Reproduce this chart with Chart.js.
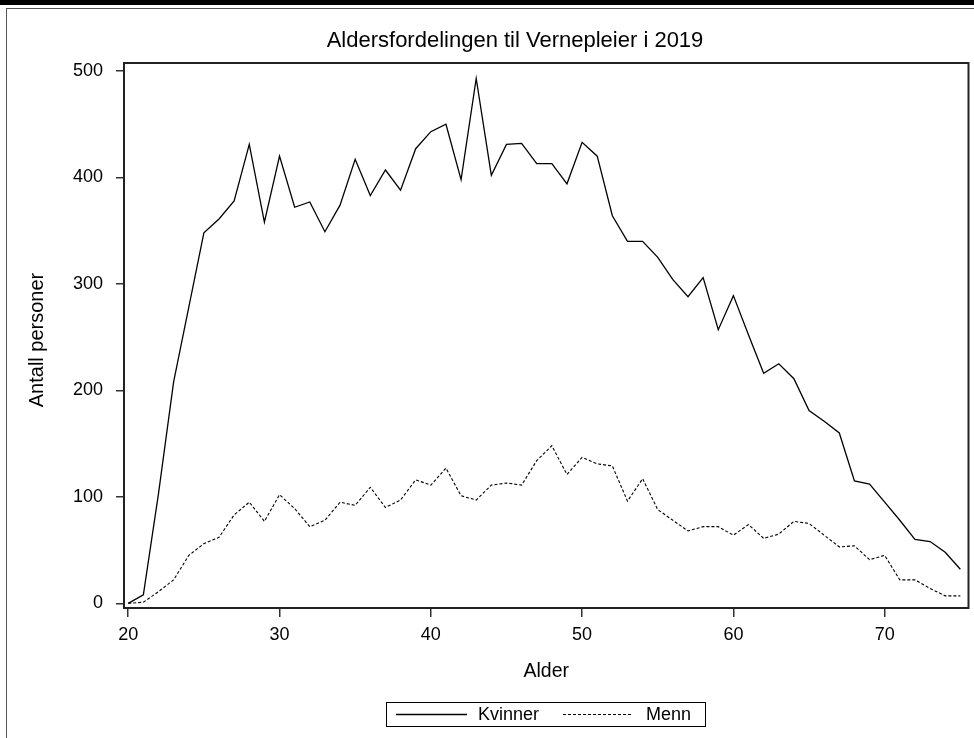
<!DOCTYPE html>
<html>
<head>
<meta charset="utf-8">
<script src="https://cdn.jsdelivr.net/npm/chart.js@4/dist/chart.umd.min.js"></script>
<style>
  html, body { margin: 0; padding: 0; background: #fff; }
  #wrap { position: relative; width: 974px; height: 738px; overflow: hidden; }
  #topbar { position: absolute; left: 0; top: 0; width: 974px; height: 5px; background: #000; }
  #frameTop { position: absolute; left: 6px; top: 8px; width: 968px; height: 1px; background: #555; }
  #frameLeft { position: absolute; left: 6px; top: 8px; width: 1px; height: 730px; background: #555; }
  canvas { position: absolute; left: 0; top: 0; }
</style>
</head>
<body>
<div id="wrap">
  <div id="topbar"></div>
  <div id="frameTop"></div>
  <div id="frameLeft"></div>
  <canvas id="c" width="974" height="738"></canvas>
</div>
<script>
// Alder (år)
const ages = [20,21,22,23,24,25,26,27,28,29,30,31,32,33,34,35,36,37,38,39,40,41,42,43,44,45,46,47,
              48,49,50,51,52,53,54,55,56,57,58,59,60,61,62,63,64,65,66,67,68,69,70,71,72,73,74,75];
// Antall kvinner per alder
const kvinner = [0,8,103,208,278,348,361,378,431,358,420,372,377,349,374,417,383,407,388,427,443,450,398,493,
                 402,431,432,413,413,394,433,420,364,340,340,325,304,288,306,257,289,252,216,225,211,181,171,160,
                 115,112,95,78,60,58,48,32];
// Antall menn per alder
const menn = [0,1,11,22,45,56,62,83,95,77,102,89,72,78,95,92,109,90,97,116,111,127,101,97,
              111,113,111,134,148,121,137,131,129,96,117,88,78,68,72,72,64,74,61,65,77,75,64,53,
              54,41,45,22,22,14,7,7];
const xTicks = [20,30,40,50,60,70];
const yTicks = [0,100,200,300,400,500];

const FONT = "'Liberation Sans', Arial, sans-serif";

function toPoints(vals) { return ages.map((a, i) => ({ x: a, y: vals[i] })); }

// Plot frame, title, axis titles and boxed legend
const decorations = {
  id: 'decorations',
  afterDraw(chart) {
    const ctx = chart.ctx;
    const a = chart.chartArea;
    ctx.save();
    ctx.strokeStyle = '#222';
    ctx.lineWidth = 2;
    ctx.strokeRect(a.left, a.top, a.right - a.left, a.bottom - a.top);

    ctx.fillStyle = '#000';
    ctx.textBaseline = 'middle';
    ctx.textAlign = 'center';
    ctx.font = '22px ' + FONT;
    ctx.fillText('Aldersfordelingen til Vernepleier i 2019', 515, 41);

    ctx.font = '19.5px ' + FONT;
    ctx.fillText('Alder', (a.left + a.right) / 2, 672);

    ctx.save();
    ctx.translate(37, 340);
    ctx.rotate(-Math.PI / 2);
    ctx.font = '20px ' + FONT;
    ctx.fillText('Antall personer', 0, 0);
    ctx.restore();

    // legend
    const lx = 386, ly = 702, lw = 319, lh = 24;
    ctx.lineWidth = 1;
    ctx.strokeStyle = '#000';
    ctx.strokeRect(lx + 0.5, ly + 0.5, lw, lh);
    const items = [
      { ds: chart.data.datasets[0], x0: 396, x1: 467, tx: 478 },
      { ds: chart.data.datasets[1], x0: 563, x1: 632, tx: 646 }
    ];
    ctx.font = '18px ' + FONT;
    ctx.textAlign = 'left';
    items.forEach(it => {
      ctx.beginPath();
      ctx.setLineDash(it.ds.borderDash || []);
      ctx.lineWidth = it.ds.borderWidth;
      ctx.strokeStyle = it.ds.borderColor;
      ctx.moveTo(it.x0, 714.5);
      ctx.lineTo(it.x1, 714.5);
      ctx.stroke();
      ctx.setLineDash([]);
      ctx.fillText(it.ds.label, it.tx, 715);
    });
    ctx.restore();
  }
};

new Chart(document.getElementById('c'), {
  type: 'line',
  data: {
    datasets: [
      { label: 'Kvinner', data: toPoints(kvinner), borderColor: '#000', borderWidth: 1.3,
        pointRadius: 0, tension: 0, fill: false },
      { label: 'Menn', data: toPoints(menn), borderColor: '#000', borderWidth: 1.1,
        borderDash: [3, 2], pointRadius: 0, tension: 0, fill: false }
    ]
  },
  options: {
    responsive: false,
    devicePixelRatio: 1,
    animation: false,
    layout: { padding: { left: 0, top: 63, right: 5.5, bottom: 0 } },
    plugins: { legend: { display: false }, title: { display: false }, tooltip: { enabled: false } },
    scales: {
      x: {
        type: 'linear',
        min: 19.72,
        max: 75.54,
        afterFit(s) { s.height = 130; },
        afterBuildTicks(s) { s.ticks = xTicks.map(v => ({ value: v })); },
        border: { display: false },
        grid: { drawOnChartArea: false, drawTicks: true, tickLength: 9, color: '#333', lineWidth: 1.5 },
        ticks: { color: '#000', font: { family: FONT, size: 18 }, padding: 7, maxRotation: 0 }
      },
      y: {
        type: 'linear',
        min: -4.4,
        max: 507.5,
        afterFit(s) { s.width = 124; },
        afterBuildTicks(s) { s.ticks = yTicks.map(v => ({ value: v })); },
        border: { display: false },
        grid: { drawOnChartArea: false, drawTicks: true, tickLength: 8, color: '#333', lineWidth: 1.5 },
        ticks: { color: '#000', font: { family: FONT, size: 18 }, padding: 13 }
      }
    }
  },
  plugins: [decorations]
});
</script>
</body>
</html>
